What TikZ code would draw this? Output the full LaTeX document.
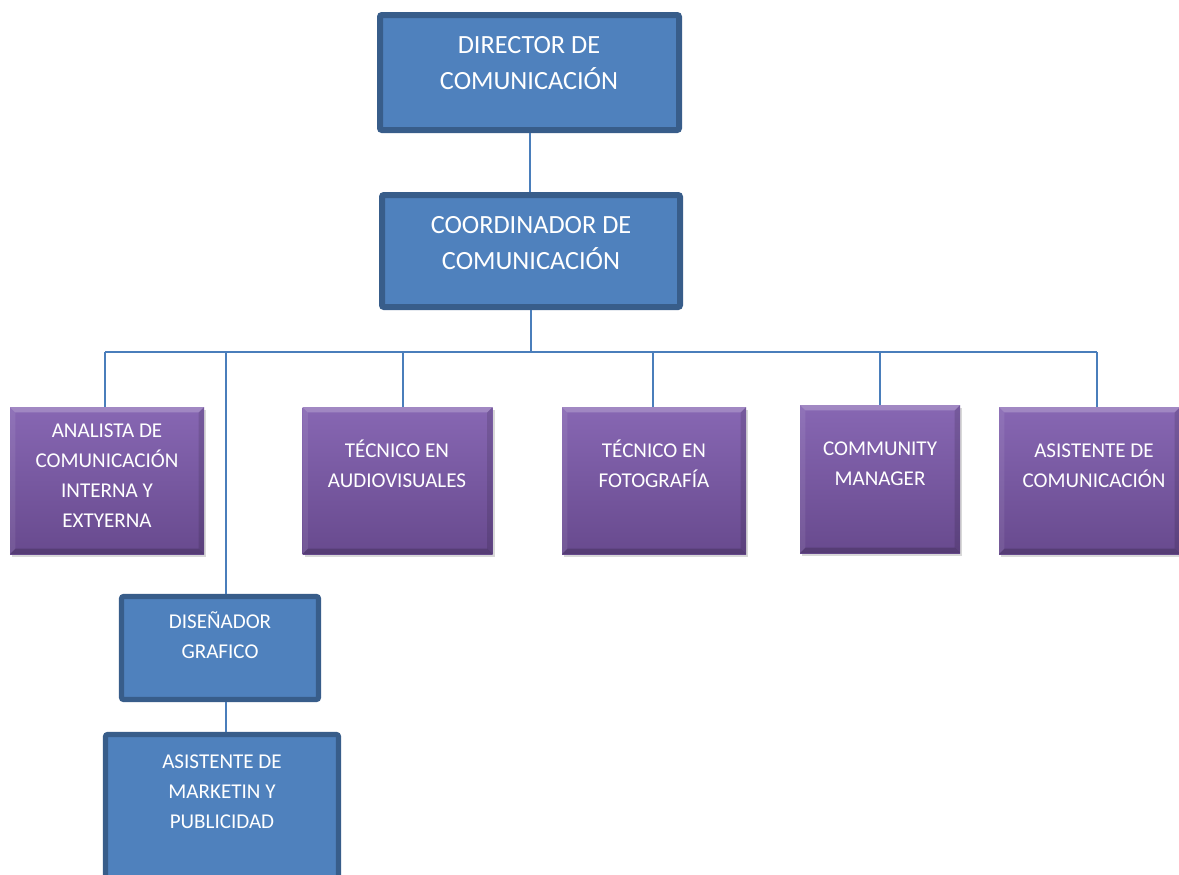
\documentclass[tikz,border=0pt]{standalone}
\usepackage{fontspec}
\setmainfont{Carlito}
\usetikzlibrary{positioning,shadows}

\definecolor{boxblue}{HTML}{4F81BD}
\definecolor{boxedge}{HTML}{385D8A}
\definecolor{linkblue}{HTML}{4A7EBB}
\definecolor{purptop}{HTML}{8767B3}
\definecolor{purpbot}{HTML}{684A8E}

\tikzset{
  bluebox/.style={draw=boxedge, fill=boxblue, line width=4.5pt, rounded corners=1.5pt, inner sep=0pt},
  purpbox/.style={top color=purptop, bottom color=purpbot, inner sep=0pt,
    drop shadow={shadow xshift=1.5pt, shadow yshift=-2.5pt, opacity=0.3},
    path picture={
      \coordinate (pnw) at (path picture bounding box.north west);
      \coordinate (pne) at (path picture bounding box.north east);
      \coordinate (psw) at (path picture bounding box.south west);
      \coordinate (pse) at (path picture bounding box.south east);
      \fill[white,opacity=0.22] (pnw) -- (pne) -- ([shift={(-4pt,-4pt)}]pne) -- ([shift={(4pt,-4pt)}]pnw) -- cycle;
      \fill[white,opacity=0.08] (pnw) -- (psw) -- ([shift={(4pt,4pt)}]psw) -- ([shift={(4pt,-4pt)}]pnw) -- cycle;
      \fill[black,opacity=0.18] (psw) -- (pse) -- ([shift={(-4pt,4pt)}]pse) -- ([shift={(4pt,4pt)}]psw) -- cycle;
      \fill[black,opacity=0.12] (pne) -- (pse) -- ([shift={(-4pt,4pt)}]pse) -- ([shift={(-4pt,-4pt)}]pne) -- cycle;
    }},
  conn/.style={draw=linkblue, line width=1.5pt},
  bigtxt/.style={text=white, align=center, inner sep=0pt, font=\fontsize{19.7}{27}\selectfont},
  smalltxt/.style={text=white, align=center, inner sep=0pt, font=\fontsize{15.8}{22.5}\selectfont}
}

\begin{document}
\begin{tikzpicture}[x=0.75pt,y=-0.75pt]
  \clip (0,0) rectangle (1179,875);
  \fill[white] (0,0) rectangle (1179,875);

  % upper boxes
  \node[bluebox, minimum width=224.25pt, minimum height=86.25pt] (dir) at (529.5,72.5) {};
  \node[bigtxt] (dirtext) at (529,63) {DIRECTOR DE\\COMUNICACIÓN};
  \node[bluebox, minimum width=223.5pt, minimum height=84pt] (coord) at (531,251) {};
  \node[bigtxt] (coordtext) at (531,243) {COORDINADOR DE\\COMUNICACIÓN};

  % purple row
  \node[purpbox, minimum width=145.5pt, minimum height=110.25pt] (ana) at (107,480.5) {};
  \node[smalltxt] (anatext) at (107,476) {ANALISTA DE\\COMUNICACIÓN\\INTERNA Y\\EXTYERNA};
  \node[purpbox, minimum width=142.5pt, minimum height=110.25pt] (audio) at (397.5,480.5) {};
  \node[smalltxt] (audiotext) at (397,463.5) {TÉCNICO EN\\AUDIOVISUALES};
  \node[purpbox, minimum width=138pt, minimum height=110.25pt] (foto) at (654,480.5) {};
  \node[smalltxt] (fototext) at (654,463.5) {TÉCNICO EN\\FOTOGRAFÍA};
  \node[purpbox, minimum width=120pt, minimum height=111pt] (cm) at (880,479) {};
  \node[smalltxt] (cmtext) at (880,464) {COMMUNITY\\MANAGER};
  \node[purpbox, minimum width=135.75pt, minimum height=110.25pt] (asis) at (1089.5,480.5) {};
  \node[smalltxt] (asistext) at (1094,466) {ASISTENTE DE\\COMUNICACIÓN};

  % lower boxes
  \node[bluebox, line width=3.8pt, minimum width=147.75pt, minimum height=77.25pt] (dis) at (220,648) {};
  \node[smalltxt] (distext) at (220,635.5) {DISEÑADOR\\GRAFICO};
  \node[bluebox, line width=3.8pt, minimum width=174.75pt, minimum height=150pt] (mkt) at (222,834.5) {};
  \node[smalltxt] (mkttext) at (222,792) {ASISTENTE DE\\MARKETIN Y\\PUBLICIDAD};

  % connectors
  \coordinate (b1) at (105,352);
  \coordinate (b2) at (226,352);
  \coordinate (b3) at (403,352);
  \coordinate (b4) at (653,352);
  \coordinate (b5) at (880,352);
  \coordinate (b6) at (1097,352);

  \draw[conn] (dir.south) -- (dir.south |- coord.north);
  \draw[conn] (coord.south) -- (coord.south |- b1);
  \draw[conn] (b1) -- (b6);
  \draw[conn] (b1) -- (b1 |- ana.north);
  \draw[conn] (b2) -- (b2 |- dis.north);
  \draw[conn] (b3) -- (b3 |- audio.north);
  \draw[conn] (b4) -- (b4 |- foto.north);
  \draw[conn] (b5) -- (b5 |- cm.north);
  \draw[conn] (b6) -- (b6 |- asis.north);
  \draw[conn] (b2 |- dis.south) -- (b2 |- mkt.north);
\end{tikzpicture}
\end{document}
